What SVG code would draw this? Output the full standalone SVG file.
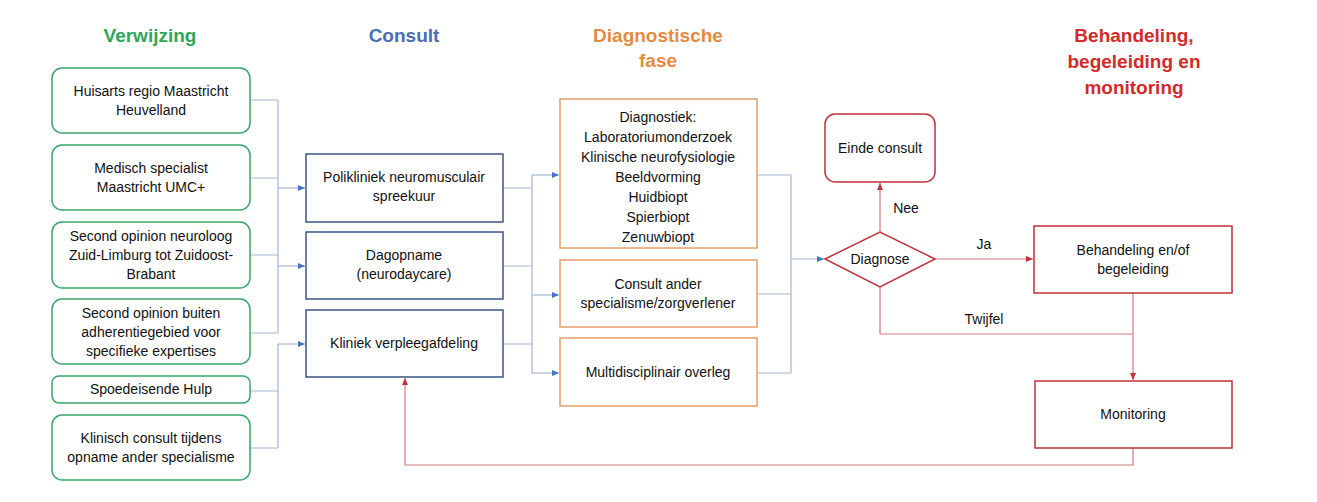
<svg xmlns="http://www.w3.org/2000/svg" width="1317" height="502" viewBox="0 0 1317 502">
<style>
text{font-family:"Liberation Sans",Arial,sans-serif;font-size:14px;fill:#111;text-anchor:middle}
.h{font-size:19px;font-weight:bold}
.g{fill:#fff;stroke:#3aa669;stroke-width:1.5}
.b{fill:#fff;stroke:#3b5488;stroke-width:1.5}
.o{fill:#fff;stroke:#e1a06c;stroke-width:1.5}
.r{fill:#fff;stroke:#c0313a;stroke-width:1.5}
.cb{fill:none;stroke:#a3b6d0;stroke-width:1.2}
.cr{fill:none;stroke:#d37b7f;stroke-width:1.2}
</style>
<defs>
<marker id="ab" markerWidth="8" markerHeight="8" refX="7" refY="4" orient="auto" markerUnits="userSpaceOnUse"><path d="M0,1 L7,4 L0,7z" fill="#4472c4"/></marker>
<marker id="ar" markerWidth="8" markerHeight="8" refX="7" refY="4" orient="auto" markerUnits="userSpaceOnUse"><path d="M0,1 L7,4 L0,7z" fill="#c0313a"/></marker>
</defs>
<g id="headers">
<text class="h" x="150" y="42" style="fill:#2ea65a">Verwijzing</text>
<text class="h" x="404" y="42" style="fill:#4a6eb0">Consult</text>
<text class="h" x="658" y="42" style="fill:#e58b3f">Diagnostische</text>
<text class="h" x="658" y="67" style="fill:#e58b3f">fase</text>
<text class="h" x="1134" y="42" style="fill:#d42a2a">Behandeling,</text>
<text class="h" x="1134" y="68" style="fill:#d42a2a">begeleiding en</text>
<text class="h" x="1134" y="94" style="fill:#d42a2a">monitoring</text>
</g>
<g id="connectors">
<path class="cb" d="M250,100H278M250,178H278M250,255H278M250,333H278M278,100V333"/>
<path class="cb" d="M278,188H305" marker-end="url(#ab)"/>
<path class="cb" d="M278,266H305" marker-end="url(#ab)"/>
<path class="cb" d="M250,391H278M250,448H278M278,344V448"/>
<path class="cb" d="M278,344H305" marker-end="url(#ab)"/>
<path class="cb" d="M503,188H532M503,266H532M503,344H532M532,175V373"/>
<path class="cb" d="M532,175H559" marker-end="url(#ab)"/>
<path class="cb" d="M532,295H559" marker-end="url(#ab)"/>
<path class="cb" d="M532,373H559" marker-end="url(#ab)"/>
<path class="cb" d="M757,175H791M757,294H791M757,373H791M791,175V373"/>
<path class="cb" d="M791,259H824" marker-end="url(#ab)"/>
<path class="cr" d="M880,232V183" marker-end="url(#ar)"/>
<path class="cr" d="M935,259H1033" marker-end="url(#ar)"/>
<path class="cr" d="M880,287V334H1133"/>
<path class="cr" d="M1133,293V380" marker-end="url(#ar)"/>
<path class="cr" d="M1133,448V465H405V378" marker-end="url(#ar)"/>
<text x="906" y="213">Nee</text>
<text x="984" y="249">Ja</text>
<text x="984" y="324">Twijfel</text>
</g>
<g id="n1"><rect class="g" x="52" y="68" width="198" height="65" rx="10"/><text x="151" y="96">Huisarts regio Maastricht</text><text x="151" y="115">Heuvelland</text></g>
<g id="n2"><rect class="g" x="52" y="145" width="198" height="65" rx="10"/><text x="151" y="173">Medisch specialist</text><text x="151" y="192">Maastricht UMC+</text></g>
<g id="n3"><rect class="g" x="52" y="222" width="198" height="66" rx="10"/><text x="151" y="241">Second opinion neuroloog</text><text x="151" y="260">Zuid-Limburg tot Zuidoost-</text><text x="151" y="279">Brabant</text></g>
<g id="n4"><rect class="g" x="52" y="299" width="198" height="65" rx="10"/><text x="151" y="318">Second opinion buiten</text><text x="151" y="337">adherentiegebied voor</text><text x="151" y="356">specifieke expertises</text></g>
<g id="n5"><rect class="g" x="52" y="376" width="198" height="27" rx="7"/><text x="151" y="394">Spoedeisende Hulp</text></g>
<g id="n6"><rect class="g" x="52" y="415" width="198" height="65" rx="10"/><text x="151" y="443">Klinisch consult tijdens</text><text x="151" y="462">opname ander specialisme</text></g>
<g id="c1"><rect class="b" x="306" y="154" width="197" height="68"/><text x="404" y="182">Polikliniek neuromusculair</text><text x="404" y="201">spreekuur</text></g>
<g id="c2"><rect class="b" x="306" y="232" width="197" height="67"/><text x="404" y="260">Dagopname</text><text x="404" y="279">(neurodaycare)</text></g>
<g id="c3"><rect class="b" x="306" y="310" width="197" height="67"/><text x="404" y="348">Kliniek verpleegafdeling</text></g>
<g id="d1"><rect class="o" x="560" y="99" width="197" height="149"/><text x="658" y="122">Diagnostiek:</text><text x="658" y="142">Laboratoriumonderzoek</text><text x="658" y="162">Klinische neurofysiologie</text><text x="658" y="182">Beeldvorming</text><text x="658" y="202">Huidbiopt</text><text x="658" y="222">Spierbiopt</text><text x="658" y="242">Zenuwbiopt</text></g>
<g id="d2"><rect class="o" x="560" y="260" width="197" height="67"/><text x="658" y="289">Consult ander</text><text x="658" y="308">specialisme/zorgverlener</text></g>
<g id="d3"><rect class="o" x="560" y="338" width="197" height="68"/><text x="658" y="377">Multidisciplinair overleg</text></g>
<g id="einde"><rect class="r" x="825" y="114" width="110" height="68" rx="10"/><text x="880" y="153">Einde consult</text></g>
<g id="diagnose"><path class="r" d="M825,259L880,232L935,259L880,287z"/><text x="880" y="264">Diagnose</text></g>
<g id="behandeling"><rect class="r" x="1034" y="226" width="198" height="67"/><text x="1133" y="255">Behandeling en/of</text><text x="1133" y="274">begeleiding</text></g>
<g id="monitoring"><rect class="r" x="1035" y="381" width="197" height="67"/><text x="1133" y="419">Monitoring</text></g>
</svg>
